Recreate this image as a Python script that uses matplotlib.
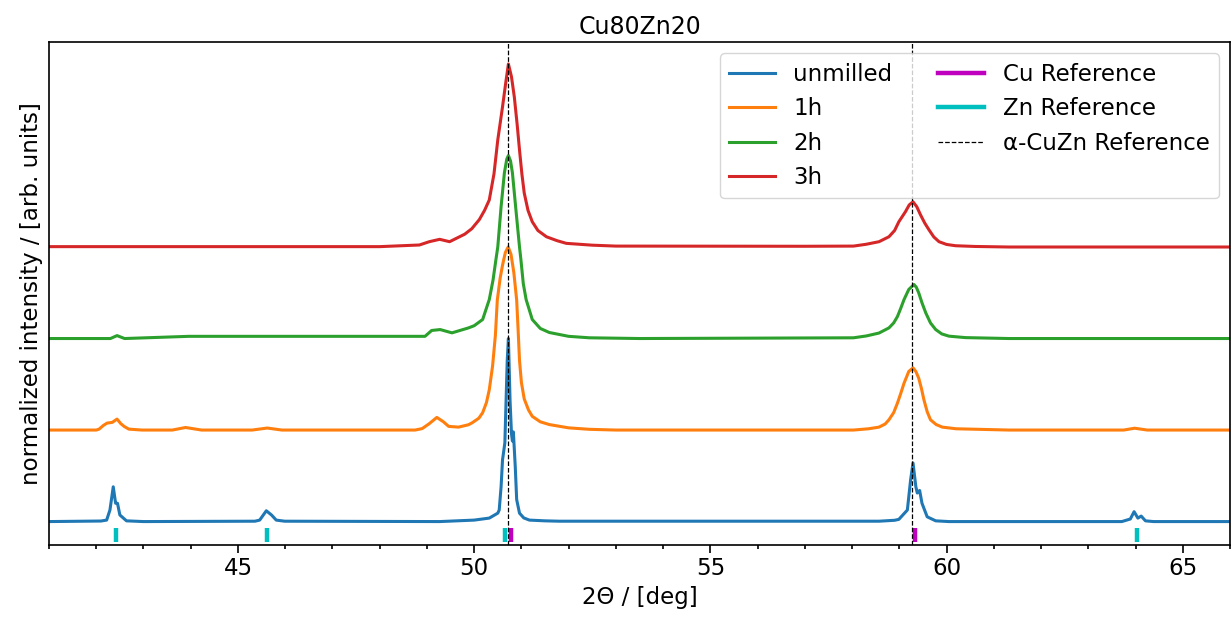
import matplotlib
matplotlib.use("Agg")
import matplotlib.pyplot as plt
from matplotlib.lines import Line2D
from matplotlib.ticker import MultipleLocator

# ---------------- data ----------------
labels = ["unmilled", "1h", "2h", "3h"]
offsets = [0.0, 0.5, 1.0, 1.5]

unmilled_x = [41.0, 42.10, 42.22, 42.29, 42.36, 42.41, 42.45, 42.50, 42.64, 43.0,
              45.36, 45.46, 45.60, 45.71, 45.81, 45.99,
              49.27, 50.00, 50.32, 50.50, 50.53, 50.57, 50.60, 50.65, 50.70, 50.725, 50.76,
              50.79, 50.81, 50.83, 50.87, 50.90, 50.96, 51.05, 51.17, 51.50, 51.80,
              58.57, 58.90, 58.99, 59.17, 59.24, 59.29, 59.35, 59.38, 59.43, 59.48, 59.59, 59.77, 60.05,
              63.71, 63.89, 63.97, 64.05, 64.12, 64.21, 64.38, 66.0]
unmilled_y = [0.0, 0.003, 0.008, 0.063, 0.19, 0.10, 0.10, 0.036, 0.004, 0.0,
              0.002, 0.008, 0.059, 0.036, 0.008, 0.002,
              0.0, 0.008, 0.019, 0.046, 0.063, 0.19, 0.336, 0.43, 0.88, 1.0, 0.66,
              0.48, 0.44, 0.49, 0.30, 0.12, 0.046, 0.02, 0.008, 0.004, 0.002,
              0.002, 0.007, 0.012, 0.063, 0.23, 0.32, 0.19, 0.156, 0.17, 0.10, 0.026, 0.004, 0.0,
              0.0, 0.014, 0.054, 0.019, 0.03, 0.004, 0.0, 0.0]

h1_x = [41.0, 42.0, 42.06, 42.15, 42.23, 42.34, 42.44, 42.52, 42.59, 42.69, 42.97,
        43.61, 43.89, 44.23, 45.30, 45.62, 45.93,
        48.75, 48.90, 49.05, 49.21, 49.35, 49.46, 49.67, 49.88, 49.96, 50.10, 50.18, 50.26,
        50.32, 50.39, 50.45, 50.49, 50.55, 50.60, 50.66, 50.72, 50.78, 50.84, 50.90, 50.93,
        50.96, 51.00, 51.06, 51.15, 51.23, 51.40, 51.59, 52.00, 52.44, 53.0,
        58.03, 58.35, 58.57, 58.70, 58.78, 58.88, 58.96, 59.03, 59.10, 59.20, 59.29, 59.35,
        59.41, 59.47, 59.52, 59.59, 59.66, 59.78, 59.91, 60.20, 61.32,
        63.75, 63.98, 64.25, 66.0]
h1_y = [0.0, 0.0, 0.005, 0.025, 0.038, 0.042, 0.06, 0.035, 0.02, 0.005, 0.0,
        0.0, 0.014, 0.0, 0.0, 0.011, 0.0,
        0.0, 0.008, 0.035, 0.069, 0.045, 0.02, 0.016, 0.029, 0.04, 0.065, 0.095, 0.15,
        0.22, 0.35, 0.52, 0.71, 0.83, 0.90, 0.97, 1.0, 0.96, 0.86, 0.71, 0.55,
        0.38, 0.26, 0.17, 0.11, 0.075, 0.045, 0.03, 0.012, 0.004, 0.0,
        0.0, 0.007, 0.016, 0.033, 0.056, 0.095, 0.147, 0.20, 0.256, 0.32, 0.34, 0.32,
        0.284, 0.225, 0.166, 0.10, 0.056, 0.03, 0.016, 0.007, 0.0,
        0.0, 0.01, 0.0, 0.0]

h2_x = [41.0, 42.30, 42.44, 42.60, 43.96, 48.19, 48.96, 49.10, 49.28, 49.53, 49.88,
        50.00, 50.18, 50.32, 50.40, 50.46, 50.50, 50.57, 50.64, 50.69, 50.725, 50.77,
        50.81, 50.89, 50.96, 50.99, 51.04, 51.10, 51.23, 51.40, 51.59, 52.00, 52.44, 53.5,
        58.03, 58.30, 58.57, 58.78, 58.88, 58.96, 59.03, 59.10, 59.20, 59.31, 59.36, 59.41,
        59.48, 59.56, 59.66, 59.77, 59.90, 60.05, 60.40, 61.32, 66.0]
h2_y = [0.0, 0.0, 0.016, 0.0, 0.012, 0.012, 0.012, 0.044, 0.049, 0.031, 0.058,
        0.07, 0.104, 0.213, 0.32, 0.43, 0.50, 0.72, 0.905, 0.98, 1.0, 0.97,
        0.905, 0.687, 0.50, 0.43, 0.30, 0.213, 0.104, 0.055, 0.033, 0.012, 0.004, 0.0,
        0.004, 0.014, 0.03, 0.058, 0.085, 0.12, 0.165, 0.213, 0.268, 0.295, 0.28, 0.25,
        0.195, 0.14, 0.085, 0.049, 0.025, 0.013, 0.005, 0.0, 0.0]

h3_x = [41.0, 48.0, 48.84, 49.05, 49.27, 49.48, 49.80, 49.95, 50.11, 50.22, 50.32, 50.42,
        50.50, 50.60, 50.67, 50.725, 50.79, 50.85, 50.91, 50.96, 51.01, 51.06, 51.14, 51.23,
        51.35, 51.53, 51.75, 51.95, 52.50, 53.0, 57.0,
        58.03, 58.30, 58.57, 58.78, 58.90, 58.99, 59.13, 59.21, 59.29, 59.37, 59.45, 59.54,
        59.63, 59.73, 59.84, 60.00, 60.19, 60.60, 61.32, 66.0]
h3_y = [0.002, 0.002, 0.011, 0.029, 0.042, 0.029, 0.07, 0.10, 0.15, 0.20, 0.257, 0.40,
        0.585, 0.765, 0.90, 1.0, 0.93, 0.82, 0.67, 0.53, 0.40, 0.295, 0.20, 0.138,
        0.09, 0.056, 0.035, 0.02, 0.01, 0.005, 0.004,
        0.005, 0.015, 0.029, 0.056, 0.09, 0.138, 0.193, 0.23, 0.247, 0.22, 0.175, 0.13,
        0.093, 0.055, 0.029, 0.014, 0.007, 0.003, 0.0, 0.0]

cu_ref = [50.77, 59.33]
zn_ref = [42.42, 45.62, 50.65, 64.03]
alpha_cuzn_ref = [50.725, 59.27]

# ---------------- figure ----------------
plt.rcParams["font.family"] = ["DejaVu Sans"]
plt.rcParams["font.size"] = 16.5

fig = plt.figure(figsize=(12.31, 6.19), dpi=100)
ax = fig.add_axes([49 / 1231, (619 - 545) / 619, (1230 - 49) / 1231, (545 - 42) / 619])

series = [(unmilled_x, unmilled_y), (h1_x, h1_y), (h2_x, h2_y), (h3_x, h3_y)]
colors = ["tab:blue", "tab:orange", "tab:green", "tab:red"]
handles = []
for (xs, ys), off, lab, col in zip(series, offsets, labels, colors):
    (ln,) = ax.plot(xs, [v + off for v in ys], color=col, lw=2.2, label=lab)
    handles.append(ln)

ax.vlines(cu_ref, -0.11, -0.036, color="m", lw=3.2)
ax.vlines(zn_ref, -0.11, -0.036, color="c", lw=3.2)
for xv in alpha_cuzn_ref:
    ax.axvline(xv, color="k", ls="--", lw=0.9)

handles += [Line2D([], [], color="m", lw=3.2, label="Cu Reference"),
            Line2D([], [], color="c", lw=3.2, label="Zn Reference"),
            Line2D([], [], color="k", ls="--", lw=0.9, label="α-CuZn Reference")]

ax.set_xlim(41, 66)
ax.set_ylim(-0.128, 2.62)
ax.set_yticks([])
ax.xaxis.set_major_locator(MultipleLocator(5))
ax.xaxis.set_minor_locator(MultipleLocator(1))
ax.tick_params(axis="x", which="major", length=5.4, width=1.2)
ax.tick_params(axis="x", which="minor", length=3.1, width=1.2)
for sp in ax.spines.values():
    sp.set_linewidth(1.2)

ax.set_xlabel("2Θ / [deg]")
ax.set_ylabel("normalized intensity / [arb. units]")
ax.set_title("Cu80Zn20", fontsize=17)
ax.legend(handles=handles, loc="upper right", ncol=2, fontsize=16.5)

fig.savefig("out.png", dpi=100)
